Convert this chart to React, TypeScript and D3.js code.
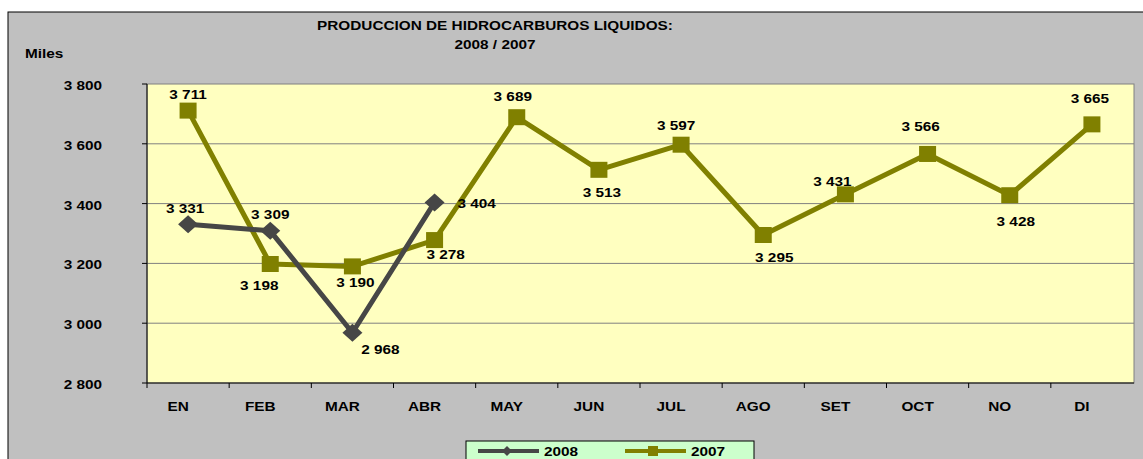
import React from "react";
import * as d3 from "d3";

const months = ["EN", "FEB", "MAR", "ABR", "MAY", "JUN", "JUL", "AGO", "SET", "OCT", "NO", "DI"];
const values2008 = [3331, 3309, 2968, 3404];
const values2007 = [3711, 3198, 3190, 3278, 3689, 3513, 3597, 3295, 3431, 3566, 3428, 3665];
const yTicks = [2800, 3000, 3200, 3400, 3600, 3800];

// data-label placement offsets (dx, baseline dy) relative to the point
const off2008: [number, number][] = [[-3, -11], [0, -12], [28, 21], [42, 6]];
const off2007: [number, number][] = [
  [0, -12], [-11, 26], [3, 21], [11, 19], [-4, -16], [3, 27],
  [-5, -15], [11, 27], [-13, -8], [-7, -23], [6, 31], [-2, -21],
];

const W = 1143, H = 459;
const plot = { left: 147, top: 84, right: 1133, bottom: 383 };
const C2008 = "#464646";
const C2007 = "#808000";
const SX = 1.18;
const FS = 13;
const fmt = (v: number) => {
  const s = String(v);
  return s.length > 3 ? s.slice(0, s.length - 3) + " " + s.slice(-3) : s;
};

function T({ x, y, anchor = "middle", children }: { x: number; y: number; anchor?: string; children: any }) {
  return (
    <text transform={`translate(${x},${y}) scale(${SX},1)`} textAnchor={anchor} fontSize={FS} fontWeight="bold" fill="#000">
      {children}
    </text>
  );
}

export default function App() {
  const x = d3.scaleBand<string>().domain(months).range([plot.left, plot.right]);
  const y = d3.scaleLinear().domain([2800, 3800]).range([plot.bottom, plot.top]);
  const cx = (i: number) => (x(months[i]) as number) + x.bandwidth() / 2;
  const line = d3.line<number>().x((_, i) => cx(i)).y((v) => y(v));
  const font = "'Liberation Sans', Arial, sans-serif";

  const diamond = (px: number, py: number, w: number, h: number) =>
    `M${px},${py - h} L${px + w},${py} L${px},${py + h} L${px - w},${py} Z`;

  return (
    <svg width={W} height={H} style={{ position: "absolute", left: 0, top: 0 }} fontFamily={font}>
      <rect x={0} y={0} width={W} height={H} fill="#ffffff" />
      <rect x={8} y={12} width={W + 10} height={H} fill="#c0c0c0" stroke="#000" strokeWidth={1} />
      <rect x={plot.left} y={plot.top} width={plot.right + 1 - plot.left} height={plot.bottom - plot.top} fill="#ffffc0" stroke="#808080" strokeWidth={1} />
      {yTicks.map((t) => (
        <g key={t}>
          {t > 2800 && t < 3800 && (
            <line x1={plot.left} x2={plot.right + 1} y1={y(t)} y2={y(t)} stroke="#808080" strokeWidth={1} />
          )}
          <line x1={plot.left - 5} x2={plot.left} y1={y(t)} y2={y(t)} stroke="#000" />
          <T x={102} y={y(t) + 6} anchor="end">{fmt(t)}</T>
        </g>
      ))}
      <line x1={plot.left} x2={plot.left} y1={plot.top} y2={plot.bottom} stroke="#000" />
      <line x1={plot.left} x2={plot.right + 1} y1={plot.bottom} y2={plot.bottom} stroke="#000" />
      {months.map((m, i) => (
        <g key={m}>
          <line x1={x(m) as number} x2={x(m) as number} y1={plot.bottom} y2={plot.bottom + 5} stroke="#000" />
          <T x={cx(i) - 10} y={411}>{m}</T>
        </g>
      ))}
      <T x={25} y={58} anchor="start">Miles</T>
      <T x={495} y={30}>PRODUCCION DE HIDROCARBUROS LIQUIDOS:</T>
      <T x={495} y={49}>2008 / 2007</T>

      <path d={line(values2007) || ""} fill="none" stroke={C2007} strokeWidth={5} strokeLinejoin="round" />
      <path d={line(values2008) || ""} fill="none" stroke={C2008} strokeWidth={5} strokeLinejoin="round" />
      {values2007.map((v, i) => (
        <rect key={i} x={cx(i) - 8.5} y={y(v) - 8} width={17} height={16} fill={C2007} />
      ))}
      {values2008.map((v, i) => (
        <path key={i} d={diamond(cx(i), y(v), 10, 9)} fill={C2008} />
      ))}
      {values2007.map((v, i) => (
        <T key={i} x={cx(i) + off2007[i][0]} y={y(v) + off2007[i][1]}>{fmt(v)}</T>
      ))}
      {values2008.map((v, i) => (
        <T key={i} x={cx(i) + off2008[i][0]} y={y(v) + off2008[i][1]}>{fmt(v)}</T>
      ))}

      <rect x={466} y={441} width={288} height={30} fill="#ccffcc" stroke="#000" />
      <line x1={478} x2={539} y1={451} y2={451} stroke={C2008} strokeWidth={4} />
      <path d={diamond(507, 451, 5, 5)} fill={C2008} />
      <T x={544} y={456} anchor="start">2008</T>
      <line x1={625} x2={686} y1={451} y2={451} stroke={C2007} strokeWidth={4} />
      <rect x={648} y={446} width={10} height={10} fill={C2007} />
      <T x={691} y={456} anchor="start">2007</T>
    </svg>
  );
}
